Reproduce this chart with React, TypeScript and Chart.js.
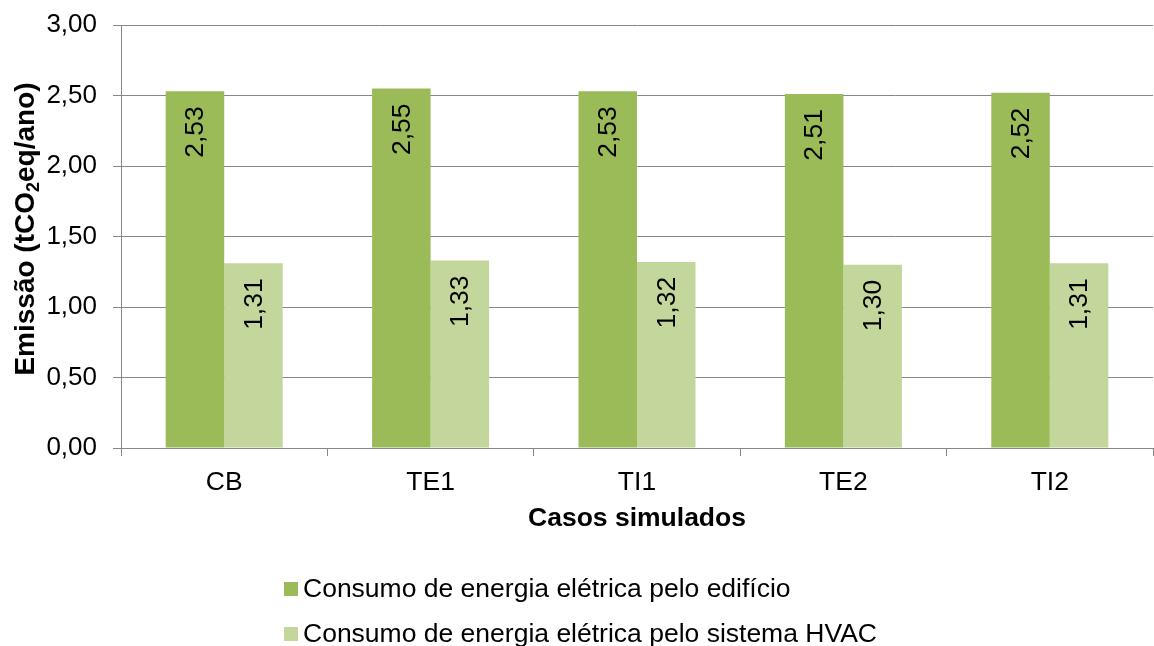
import React, { useEffect, useRef } from "react";
import { Chart, registerables } from "chart.js";

Chart.register(...registerables);

const categories = ["CB", "TE1", "TI1", "TE2", "TI2"];
const edificioValues = [2.53, 2.55, 2.53, 2.51, 2.52];
const hvacValues = [1.31, 1.33, 1.32, 1.3, 1.31];
const seriesLabels = [
  "Consumo de energia elétrica pelo edifício",
  "Consumo de energia elétrica pelo sistema HVAC",
];
const seriesColors = ["#9BBB59", "#C3D69B"];
const xTitle = "Casos simulados";
const yTitleParts = ["Emissão (tCO", "2", "eq/ano)"];

const FONT = "'Liberation Sans', Arial, sans-serif";
const GRID = "#878787";

const fmt = (v: number) => v.toFixed(2).replace(".", ",");

const decorPlugin = {
  id: "decor",
  afterDatasetsDraw(chart: any) {
    const ctx = chart.ctx;
    ctx.save();
    ctx.fillStyle = "#000";
    ctx.font = `26.5px ${FONT}`;
    chart.data.datasets.forEach((ds: any, di: number) => {
      const meta = chart.getDatasetMeta(di);
      meta.data.forEach((el: any, i: number) => {
        const { x, y } = el.getProps(["x", "y"], true);
        ctx.save();
        ctx.translate(x, y + 15);
        ctx.rotate(-Math.PI / 2);
        ctx.textAlign = "right";
        ctx.textBaseline = "middle";
        ctx.fillText(fmt(ds.data[i]), 0, 1);
        ctx.restore();
      });
    });
    ctx.restore();
  },
  afterDraw(chart: any) {
    const ctx = chart.ctx;
    const area = chart.chartArea;
    ctx.save();
    ctx.fillStyle = "#000";
    // x title
    ctx.font = `bold 26.5px ${FONT}`;
    ctx.textAlign = "center";
    ctx.textBaseline = "alphabetic";
    ctx.fillText(xTitle, (area.left + area.right) / 2, 526);

    // y title with subscript
    const big = `bold 28px ${FONT}`;
    const small = `bold 18px ${FONT}`;
    ctx.font = big;
    const w1 = ctx.measureText(yTitleParts[0]).width;
    const w3 = ctx.measureText(yTitleParts[2]).width;
    ctx.font = small;
    const w2 = ctx.measureText(yTitleParts[1]).width;
    const total = w1 + w2 + w3;
    const cy = 229;
    ctx.save();
    ctx.translate(34, cy);
    ctx.rotate(-Math.PI / 2);
    ctx.textAlign = "left";
    ctx.textBaseline = "alphabetic";
    let cx = -total / 2;
    ctx.font = big;
    ctx.fillText(yTitleParts[0], cx, 0);
    cx += w1;
    ctx.font = small;
    ctx.fillText(yTitleParts[1], cx, 5);
    cx += w2;
    ctx.font = big;
    ctx.fillText(yTitleParts[2], cx, 0);
    ctx.restore();

    // legend
    const rows = [597, 642];
    ctx.font = `26.5px ${FONT}`;
    ctx.textAlign = "left";
    ctx.textBaseline = "alphabetic";
    seriesLabels.forEach((lab, i) => {
      ctx.fillStyle = seriesColors[i];
      ctx.fillRect(284, rows[i] - 15, 14, 14);
      ctx.fillStyle = "#000";
      ctx.fillText(lab, 303, rows[i]);
    });
    ctx.restore();
  },
};

export default function App() {
  const ref = useRef<HTMLCanvasElement | null>(null);
  useEffect(() => {
    document.body.style.margin = "0";
    const canvas = ref.current;
    if (!canvas) return;
    const chart = new Chart(canvas, {
      type: "bar",
      data: {
        labels: categories,
        datasets: [
          {
            label: seriesLabels[0],
            data: edificioValues,
            backgroundColor: seriesColors[0],
            categoryPercentage: 0.567,
            barPercentage: 1,
          },
          {
            label: seriesLabels[1],
            data: hvacValues,
            backgroundColor: seriesColors[1],
            categoryPercentage: 0.567,
            barPercentage: 1,
          },
        ],
      },
      options: {
        responsive: false,
        animation: false,
        devicePixelRatio: 1,
        layout: { padding: { top: 25, left: 0, right: 1, bottom: 118 } },
        plugins: {
          legend: { display: false },
          tooltip: { enabled: false },
        },
        scales: {
          x: {
            afterFit: (s: any) => {
              s.height = 80;
              s.paddingLeft = 0;
              s.paddingRight = 0;
            },
            grid: {
              offset: true,
              drawOnChartArea: false,
              drawTicks: true,
              tickLength: 8,
              color: GRID,
            },
            border: { display: true, color: GRID, width: 1 },
            ticks: {
              font: { family: FONT, size: 26.5 },
              color: "#000",
              padding: 11,
            },
          },
          y: {
            min: 0,
            max: 3,
            afterFit: (s: any) => {
              s.width = 121;
              s.paddingTop = 0;
              s.paddingBottom = 0;
            },
            grid: {
              color: GRID,
              tickLength: 8,
              drawTicks: true,
            },
            border: { display: true, color: GRID, width: 1 },
            ticks: {
              stepSize: 0.5,
              font: { family: FONT, size: 26 },
              color: "#000",
              padding: 16,
              callback: (v: any) => fmt(Number(v)),
            },
          },
        },
      },
      plugins: [decorPlugin],
    });
    return () => chart.destroy();
  }, []);
  return (
    <div style={{ width: 1154, height: 646, background: "#fff" }}>
      <canvas ref={ref} width={1154} height={646} style={{ display: "block" }} />
    </div>
  );
}
